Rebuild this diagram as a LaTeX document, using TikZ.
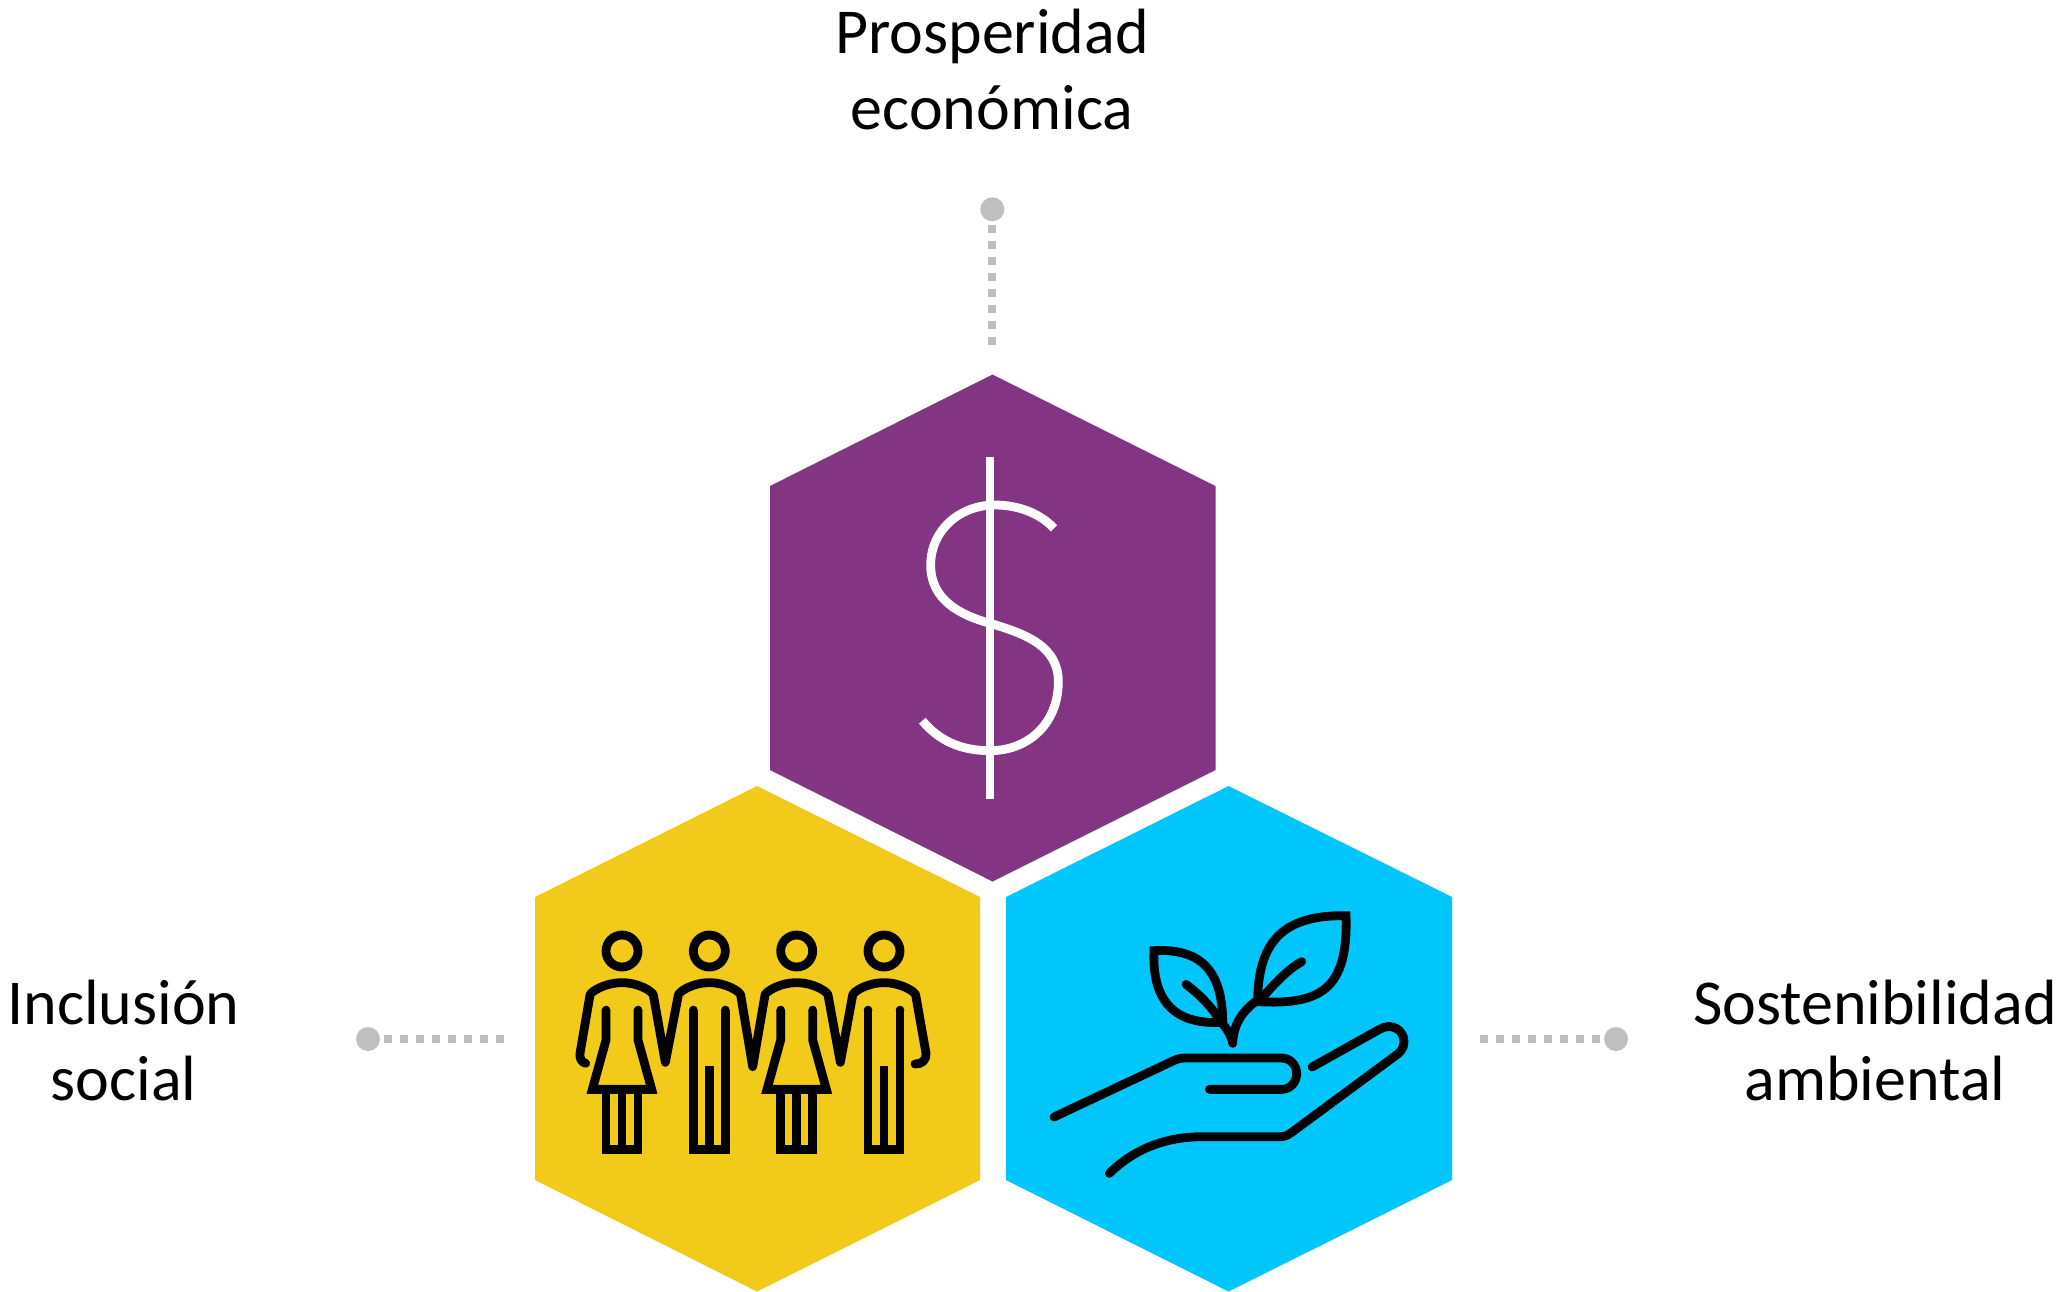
\documentclass[tikz,border=0pt]{standalone}
\usepackage{fontspec}
\setmainfont{Carlito}
\definecolor{hexpurple}{HTML}{833583}
\definecolor{hexyellow}{HTML}{F2CA19}
\definecolor{hexblue}{HTML}{00C6FB}
\definecolor{dotgrey}{HTML}{BFBFBF}
\tikzset{
  label text/.style={align=center,inner sep=0pt,font=\fontsize{32}{38}\selectfont,text=black},
  end dot/.style={circle,fill=dotgrey,minimum size=12pt,inner sep=0pt,outer sep=0pt},
  dot line/.style={draw=dotgrey,line width=4pt,dash pattern=on 4pt off 4pt,shorten <=2pt},
  icon/.style={line width=4.4pt,line join=round,line cap=round,draw=black},
  iconflat/.style={line width=4.4pt,line join=miter,line cap=butt,draw=black},
  crop/.style={x=0.16667pt,y=-0.16667pt}
}
\begin{document}
\begin{tikzpicture}[x=0.5pt,y=-0.5pt]
\useasboundingbox (0,0) rectangle (2060,1291);
\fill[white] (0,0) rectangle (2060,1291);
% hexagons
\fill[hexpurple] (992.5,374.5) -- (1215.5,486) -- (1215.5,770) -- (992.5,881.5) -- (770,770) -- (770,486) -- cycle;
\fill[hexyellow] (757,786) -- (980,897) -- (980,1180) -- (757,1291.5) -- (535,1180) -- (535,897) -- cycle;
\fill[hexblue] (1228.5,786) -- (1452,897) -- (1452,1180) -- (1228.5,1291.5) -- (1006,1180) -- (1006,897) -- cycle;
% labels
\node[label text] (topt) at (992,69.5) {Prosperidad\\económica};
\node[label text] (leftt) at (123.5,1040) {Inclusión\\social};
\node[label text] (rightt) at (1875,1040) {Sostenibilidad\\ambiental};
% connectors
\node[end dot] (topdot) at (992.3,209.3) {};
\coordinate (topend) at (992.3,346);
\draw[dot line] (topdot) -- (topend);
\node[end dot] (leftdot) at (368,1039) {};
\coordinate (leftend) at (505,1039);
\draw[dot line] (leftdot) -- (leftend);
\node[end dot] (rightdot) at (1616,1039) {};
\coordinate (rightend) at (1479,1039);
\draw[dot line] (rightdot) -- (rightend);
% dollar
\begin{scope}[shift={(880,430)},crop]
\draw[iconflat,draw=white] (330,82) -- (330,1107);
\draw[iconflat,draw=white] (522,295) .. controls (480,250) and (415,225) .. (345,225) .. controls (240,225) and (152,300) .. (152,405) .. controls (152,510) and (240,555) .. (330,580) .. controls (440,612) and (535,650) .. (535,755) .. controls (535,880) and (445,962) .. (330,962) .. controls (240,962) and (175,930) .. (127,872);
\end{scope}
% people
\begin{scope}[shift={(540,900)},crop]
\foreach \hx in {246,508,770,1032} \draw[line width=4.4pt] (\hx,153) circle (48);
\draw[icon] (137,490) .. controls (125,487) and (118,475) .. (120,460) -- (150,285)
  .. controls (152,275) and (195,248) .. (246,248) .. controls (297,248) and (338,275) .. (340,285) -- (376,487)
  -- (415,285) .. controls (417,275) and (457,248) .. (508,248) .. controls (559,248) and (600,275) .. (602,285) -- (638,500)
  -- (675,285) .. controls (677,275) and (719,248) .. (770,248) .. controls (821,248) and (862,275) .. (864,285) -- (901,487)
  -- (938,285) .. controls (940,275) and (981,248) .. (1032,248) .. controls (1083,248) and (1125,275) .. (1127,285) -- (1158,460)
  .. controls (1160,480) and (1145,493) .. (1125,492);
\foreach \ox in {0,524} {
  \begin{scope}[xshift=\ox*0.16667pt]
  \draw[iconflat] (198,330) -- (198,420) -- (157,568) -- (335,568) -- (294,420) -- (294,330);
  \fill (198,330) circle (13); \fill (294,330) circle (13);
  \draw[iconflat] (198,568) -- (198,748) -- (294,748) -- (294,568);
  \draw[iconflat] (246,568) -- (246,748);
  \draw[iconflat] (460,330) -- (460,748) -- (556,748) -- (556,330);
  \fill (460,330) circle (13); \fill (556,330) circle (13);
  \draw[iconflat] (508,497) -- (508,748);
  \end{scope}
}
\end{scope}
% plant and hand
\begin{scope}[shift={(1030,890)},crop]
\draw[icon] (72,681) -- (420,517) .. controls (435,509) and (448,504) .. (465,504) -- (755,504) .. controls (780,504) and (800,525) .. (800,551) .. controls (800,577) and (780,598) .. (755,598) -- (538,598);
\draw[icon] (846,531) -- (1050,417) .. controls (1085,397) and (1122,420) .. (1122,455) .. controls (1122,475) and (1110,488) .. (1095,498) -- (785,727) .. controls (775,735) and (765,740) .. (750,740) -- (520,740) .. controls (400,740) and (310,780) .. (238,850);
\draw[iconflat] (372,182) .. controls (500,175) and (578,230) .. (578,397) .. controls (440,405) and (365,340) .. (372,182) -- cycle;
\draw[iconflat] (948,77) .. controls (780,75) and (683,135) .. (683,335) .. controls (870,345) and (955,300) .. (948,77) -- cycle;
\draw[icon] (468,283) .. controls (510,315) and (545,350) .. (572,395) .. controls (590,415) and (603,435) .. (608,460) .. controls (610,400) and (640,360) .. (683,330);
\draw[icon] (815,215) .. controls (770,240) and (730,285) .. (695,325);
\end{scope}
\end{tikzpicture}
\end{document}
